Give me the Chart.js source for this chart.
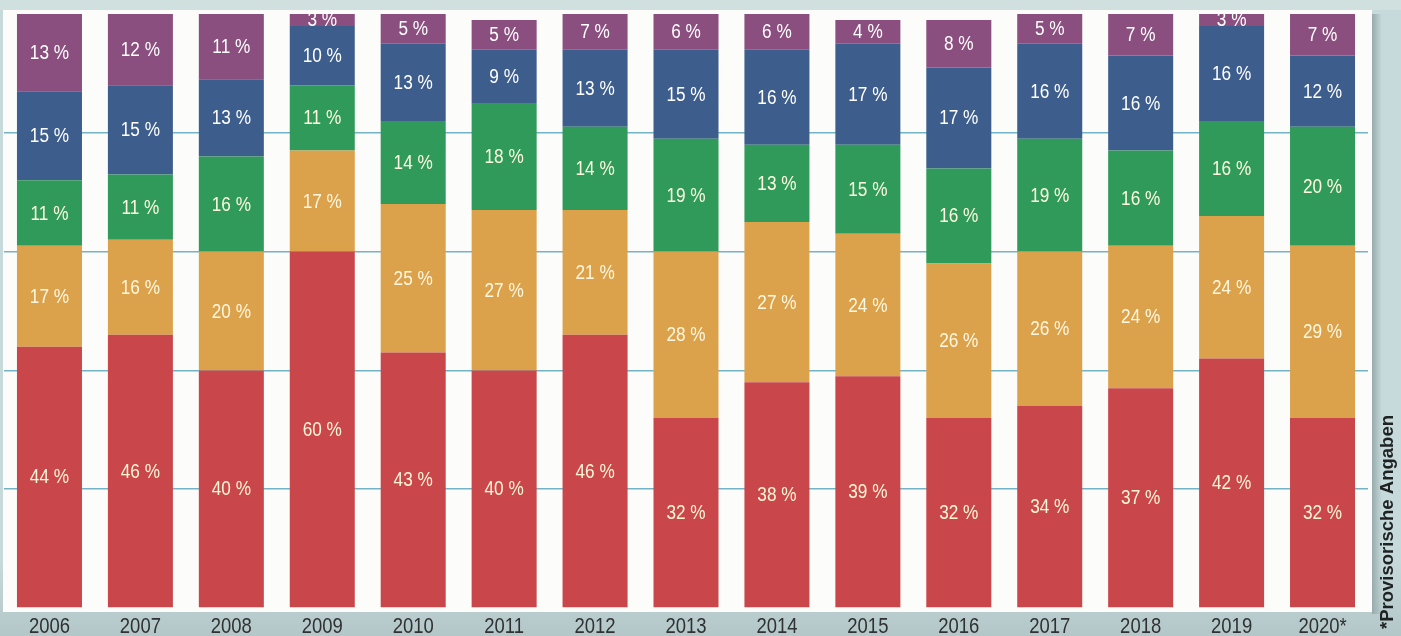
<!DOCTYPE html>
<html>
<head>
<meta charset="utf-8">
<script src="https://cdn.jsdelivr.net/npm/chart.js@4.4.1/dist/chart.umd.min.js"></script>
<style>
  html, body { margin: 0; padding: 0; background: #c7dadb; }
  #wrap { width: 1401px; height: 636px; position: relative; }
  canvas { display: block; }
</style>
</head>
<body>
<div id="wrap"><canvas id="chart" width="1401" height="636"></canvas></div>
<script>
// Years on the category axis (2020 figures are provisional)
const years = ['2006', '2007', '2008', '2009', '2010', '2011', '2012', '2013',
               '2014', '2015', '2016', '2017', '2018', '2019', '2020*'];

// Shares in percent, stacked from the bottom segment to the top segment
const shareRed    = [44, 46, 40, 60, 43, 40, 46, 32, 38, 39, 32, 34, 37, 42, 32];
const shareOrange = [17, 16, 20, 17, 25, 27, 21, 28, 27, 24, 26, 26, 24, 24, 29];
const shareGreen  = [11, 11, 16, 11, 14, 18, 14, 19, 13, 15, 16, 19, 16, 16, 20];
const shareBlue   = [15, 15, 13, 10, 13,  9, 13, 15, 16, 17, 17, 16, 16, 16, 12];
const sharePurple = [13, 12, 11,  3,  5,  5,  7,  6,  6,  4,  8,  5,  7,  3,  7];

// Horizontal guide lines (percent)
const guideLines = [20, 40, 60, 80];

const footnote = '*Provisorische Angaben';

const SANS = "'Liberation Sans', Arial, Helvetica, sans-serif";

const series = [
  { data: shareRed,    color: '#c9474b', text: '#fff6d6' },
  { data: shareOrange, color: '#dba24b', text: '#fff8e0' },
  { data: shareGreen,  color: '#2f9a59', text: '#fffbe2' },
  { data: shareBlue,   color: '#3d5e8d', text: '#ffffff' },
  { data: sharePurple, color: '#8a4e7f', text: '#ffffff' }
];

// Draws text squeezed horizontally to imitate a condensed face
function condensedText(ctx, text, x, y, squeeze) {
  ctx.save();
  ctx.translate(x, y);
  ctx.scale(squeeze, 1);
  ctx.fillText(text, 0, 0);
  ctx.restore();
}

// White card behind the plot with a soft shadow on its right edge
const cardPlugin = {
  id: 'card',
  beforeDraw(chart) {
    const ctx = chart.ctx;
    ctx.save();
    const g = ctx.createLinearGradient(0, 560, 0, 636);
    g.addColorStop(0, '#c7dadb');
    g.addColorStop(1, '#b3c6c8');
    ctx.fillStyle = g;
    ctx.fillRect(0, 0, chart.width, chart.height);
    ctx.fillStyle = '#cfe0df';
    ctx.fillRect(0, 0, chart.width, 10);
    const sh = ctx.createLinearGradient(1372, 0, 1382, 0);
    sh.addColorStop(0, '#98abac');
    sh.addColorStop(1, 'rgba(152,171,172,0)');
    ctx.fillStyle = sh;
    ctx.fillRect(1372, 14, 10, 600);
    ctx.fillStyle = '#fcfdfb';
    ctx.fillRect(3, 10, 1369, 602);
    ctx.restore();
  }
};

// Percentage labels centred in each segment, plus the year labels under the bars
const labelPlugin = {
  id: 'labels',
  afterDatasetsDraw(chart) {
    const ctx = chart.ctx;
    const area = chart.chartArea;
    ctx.save();
    ctx.font = '20px ' + SANS;
    ctx.textAlign = 'center';
    ctx.textBaseline = 'middle';
    chart.data.datasets.forEach((ds, i) => {
      const meta = chart.getDatasetMeta(i);
      meta.data.forEach((bar, j) => {
        const top = Math.max(Math.min(bar.y, bar.base), area.top);
        const bottom = Math.min(Math.max(bar.y, bar.base), area.bottom);
        ctx.fillStyle = series[i].text;
        condensedText(ctx, ds.data[j] + ' %', bar.x, (top + bottom) / 2 + 1, 0.86);
      });
    });

    const xScale = chart.scales.x;
    ctx.font = '22px ' + SANS;
    ctx.fillStyle = '#2f3132';
    ctx.textBaseline = 'alphabetic';
    years.forEach((label, i) => {
      condensedText(ctx, label, xScale.getPixelForTick(i), 633, 0.84);
    });
    ctx.restore();
  }
};

// Rotated footnote along the right margin
const footnotePlugin = {
  id: 'footnote',
  afterDraw(chart) {
    const ctx = chart.ctx;
    ctx.save();
    ctx.translate(1393, 629);
    ctx.rotate(-Math.PI / 2);
    ctx.font = 'bold 18px ' + SANS;
    const w = ctx.measureText(footnote).width;
    ctx.scale(214 / w, 1);
    ctx.fillStyle = '#1f2222';
    ctx.textAlign = 'left';
    ctx.textBaseline = 'alphabetic';
    ctx.fillText(footnote, 0, 0);
    ctx.restore();
  }
};

new Chart(document.getElementById('chart'), {
  type: 'bar',
  data: {
    labels: years,
    datasets: series.map(s => ({
      data: s.data,
      backgroundColor: s.color,
      borderWidth: 0,
      barPercentage: 0.715,
      categoryPercentage: 1.0
    }))
  },
  options: {
    responsive: false,
    animation: false,
    devicePixelRatio: 1,
    layout: { padding: { left: 4, right: 33, top: 14, bottom: 28 } },
    plugins: { legend: { display: false }, tooltip: { enabled: false } },
    scales: {
      x: {
        stacked: true,
        grid: { display: false, drawTicks: false },
        border: { display: false },
        ticks: { display: false }
      },
      y: {
        stacked: true,
        min: 0,
        max: 100,
        ticks: { display: false, stepSize: 20 },
        border: { display: false },
        grid: {
          drawTicks: false,
          lineWidth: 1.5,
          color: ctx => guideLines.includes(ctx.tick.value) ? '#74b2c6' : 'rgba(0,0,0,0)'
        }
      }
    }
  },
  plugins: [cardPlugin, labelPlugin, footnotePlugin]
});
</script>
</body>
</html>
